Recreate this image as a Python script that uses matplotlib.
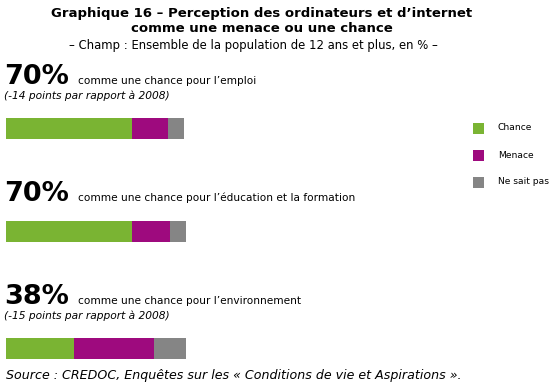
import matplotlib.pyplot as plt
from matplotlib.patches import Rectangle

# data
categories = ['emploi', 'éducation et la formation', 'environnement']
chance = [70, 70, 38]
menace = [20, 21, 44]
nsp = [9, 9, 18]
notes = ['(-14 points par rapport à 2008)', None, '(-15 points par rapport à 2008)']
series_labels = ['Chance', 'Menace', 'Ne sait pas']
colors = ['#7ab433', '#9e0a7e', '#858585']

W, H = 550, 388
fig = plt.figure(figsize=(W / 100, H / 100), dpi=100)
fig.patch.set_facecolor('white')


def fx(x):
    return x / W


def fy(y):
    return 1 - y / H


# titles
fig.text(fx(262), fy(14), "Graphique 16 – Perception des ordinateurs et d’internet",
         ha='center', va='center', fontsize=9.5, fontweight='bold')
fig.text(fx(262), fy(29), "comme une menace ou une chance",
         ha='center', va='center', fontsize=9.5, fontweight='bold')
fig.text(fx(253), fy(45), "– Champ : Ensemble de la population de 12 ans et plus, en % –",
         ha='center', va='center', fontsize=8.4)

# blocks
baselines = [84, 201, 304]
bar_tops = [118, 221, 338]
for i, cat in enumerate(categories):
    fig.text(fx(4), fy(baselines[i]), f"{chance[i]}%", ha='left', va='baseline',
             fontsize=19.5, fontweight='bold')
    fig.text(fx(78), fy(baselines[i]), f"comme une chance pour l’{cat}",
             ha='left', va='baseline', fontsize=7.6)
    if notes[i]:
        fig.text(fx(4), fy(baselines[i] + 12), notes[i], ha='left', va='center',
                 fontsize=7.7, style='italic')

    ax = fig.add_axes([fx(6), fy(bar_tops[i] + 21), 180 / W, 21 / H])
    left = 0
    for val, c in zip([chance[i], menace[i], nsp[i]], colors):
        ax.barh(0, val, left=left, height=1, color=c, linewidth=0)
        left += val
    ax.set_xlim(0, 100)
    ax.set_ylim(-0.5, 0.5)
    ax.axis('off')

# legend
for j, (lab, c) in enumerate(zip(series_labels, colors)):
    y = 128 + j * 27
    fig.patches.append(Rectangle((fx(473), fy(y + 5.5)), 11 / W, 11 / H,
                                 transform=fig.transFigure, color=c, linewidth=0))
    fig.text(fx(498), fy(y), lab, ha='left', va='center', fontsize=6.6)

# source
fig.text(fx(6), fy(375), "Source : CREDOC, Enquêtes sur les « Conditions de vie et Aspirations ».",
         ha='left', va='center', fontsize=9.1, style='italic')

fig.savefig('out.png', dpi=100, facecolor='white')
